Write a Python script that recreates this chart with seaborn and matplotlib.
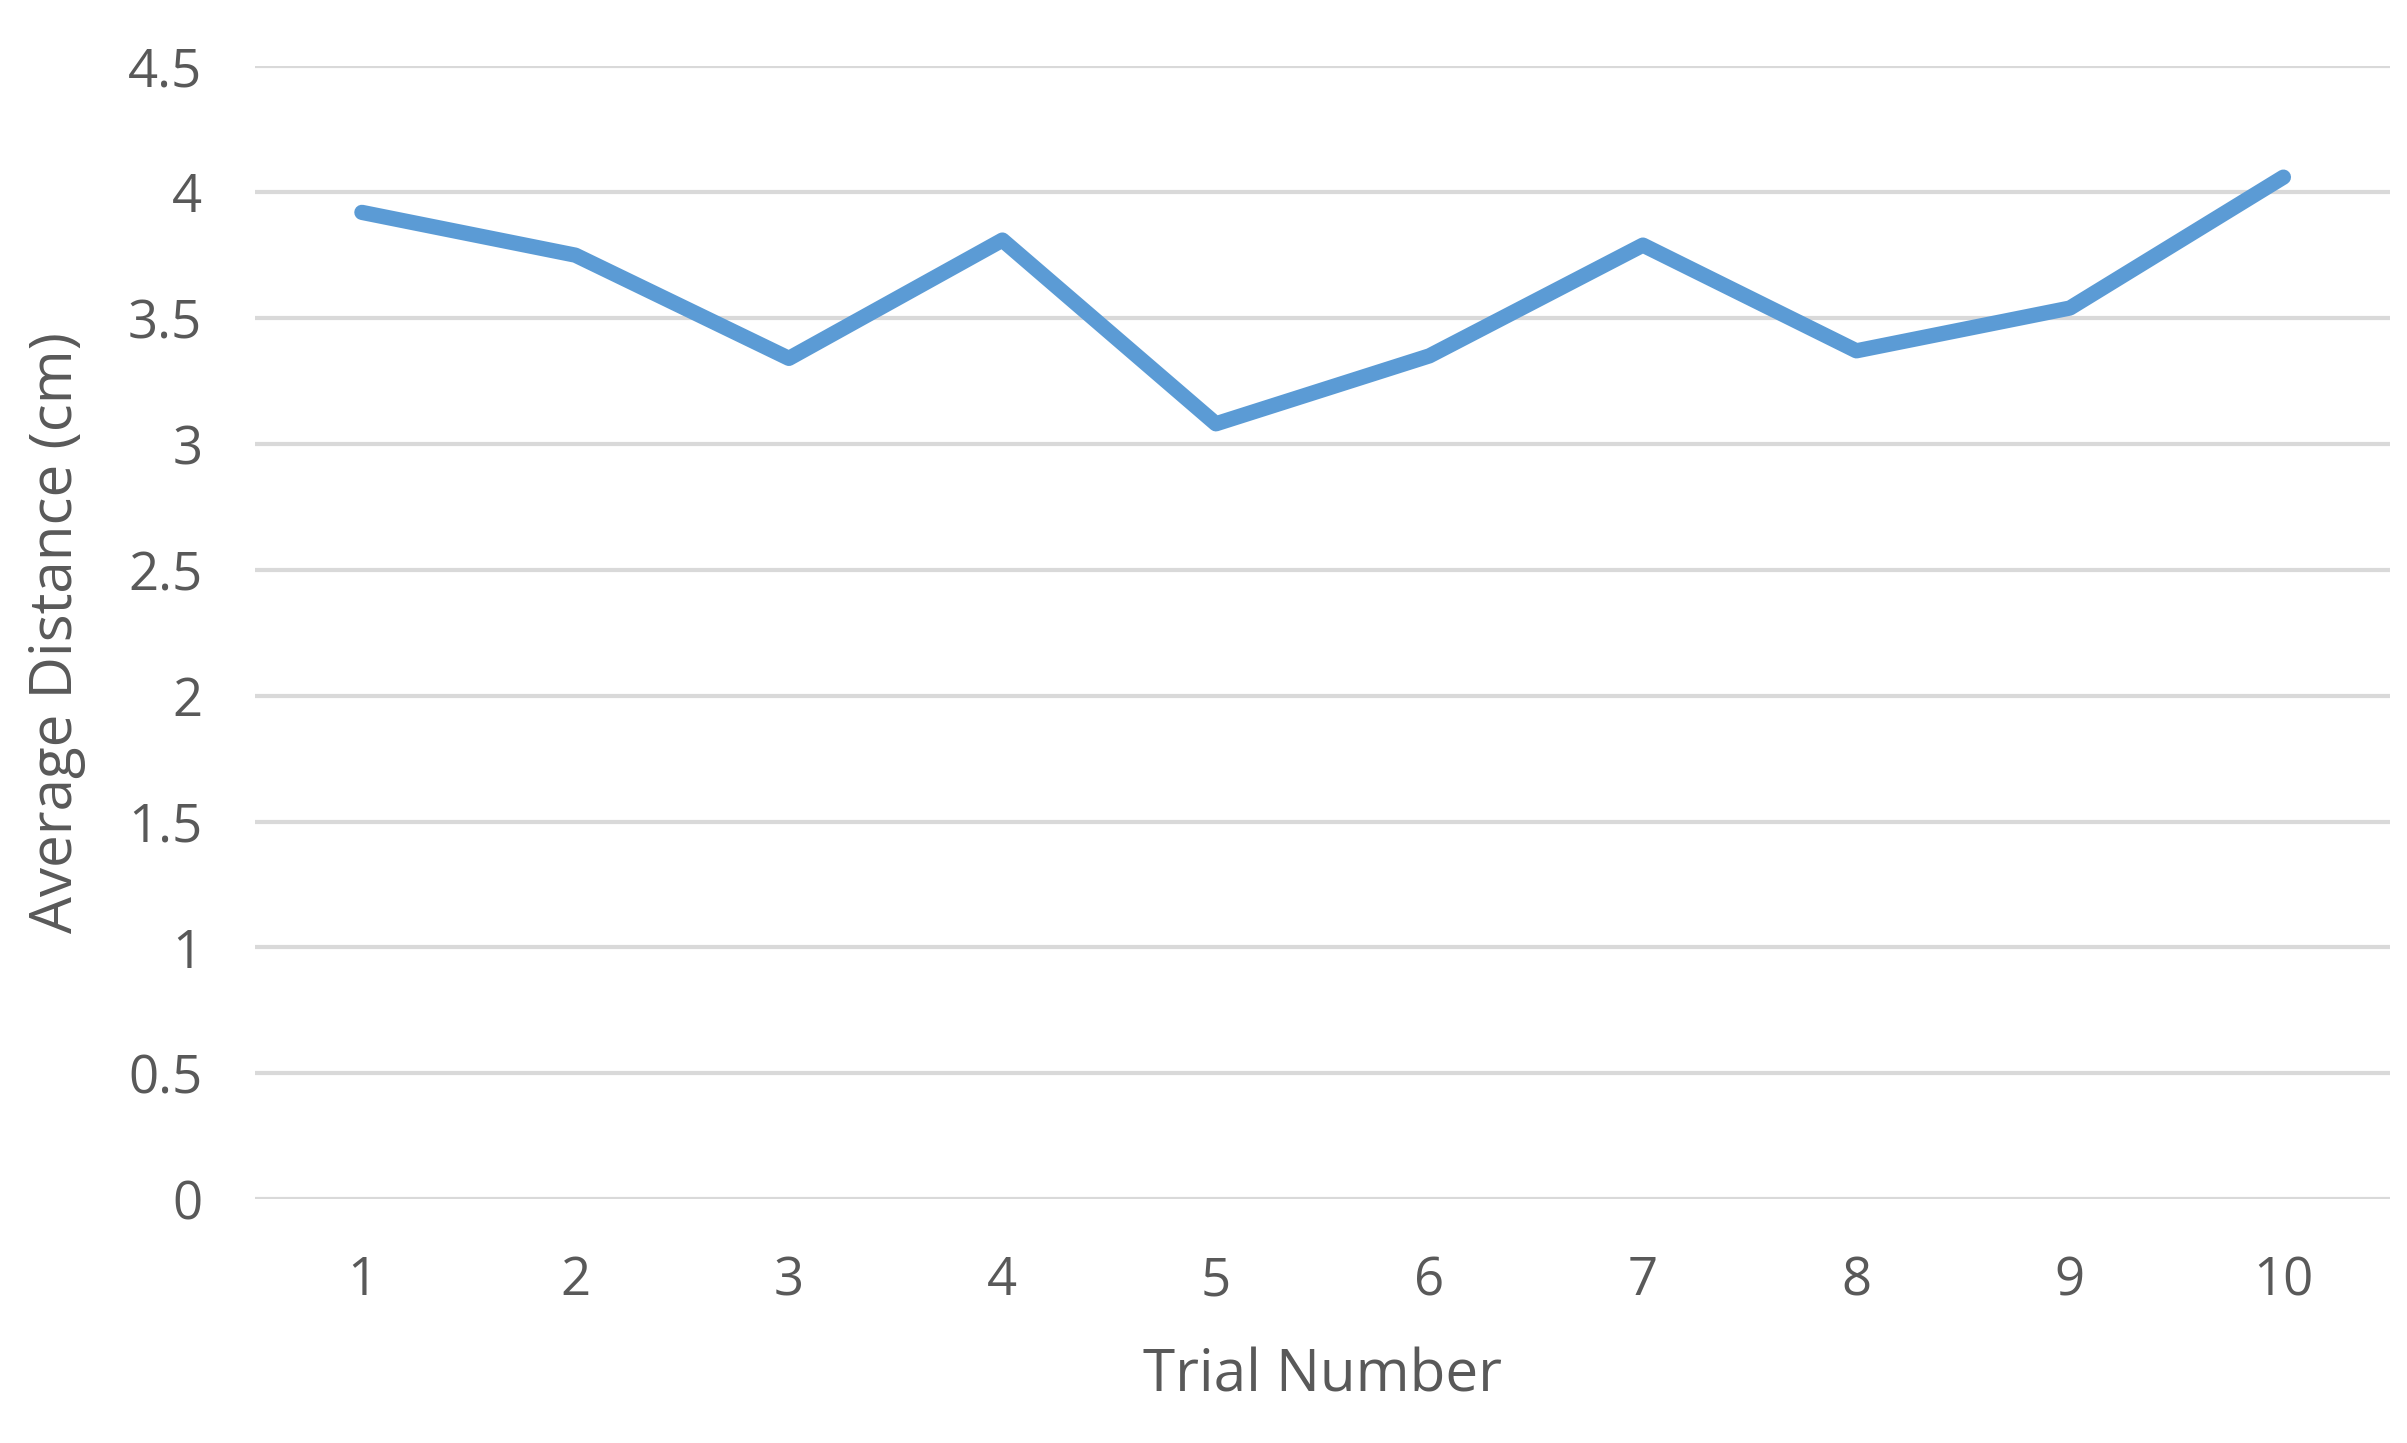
import matplotlib
matplotlib.use('Agg')
import matplotlib.pyplot as plt
import seaborn as sns
import pandas as pd

trials = [1, 2, 3, 4, 5, 6, 7, 8, 9, 10]
avg_distance = [3.92, 3.75, 3.34, 3.81, 3.08, 3.35, 3.79, 3.37, 3.54, 4.06]

sns.set_style('white')
plt.rcParams['font.family'] = ['Open Sans', 'DejaVu Sans']

df = pd.DataFrame({'Trial': trials, 'Distance': avg_distance})

fig = plt.figure(figsize=(24.07, 14.43), dpi=100)
ax = fig.add_axes([0.106, 0.169, 0.887, 0.785])
sns.lineplot(data=df, x='Trial', y='Distance', color='#5B9BD5',
             linewidth=11, ax=ax, solid_capstyle='round')

ax.set_xlim(0.5, 10.5)
ax.set_ylim(0, 4.5)
ax.set_xticks(trials)
ax.set_yticks([0, 0.5, 1, 1.5, 2, 2.5, 3, 3.5, 4, 4.5])
ax.set_yticklabels(['0', '0.5', '1', '1.5', '2', '2.5', '3', '3.5', '4', '4.5'])
ax.yaxis.grid(True, color='#D9D9D9', linewidth=3)
ax.set_axisbelow(True)
for s in ax.spines.values():
    s.set_visible(False)
ax.tick_params(axis='y', labelsize=38, colors='#595959', length=0, pad=38)
ax.tick_params(axis='x', labelsize=38, colors='#595959', length=0, pad=40)
ax.set_xlabel('Trial Number', fontsize=42, color='#595959', labelpad=28)
ax.set_ylabel('Average Distance (cm)', fontsize=42, color='#595959', labelpad=30)

fig.savefig('out.png', dpi=100)
